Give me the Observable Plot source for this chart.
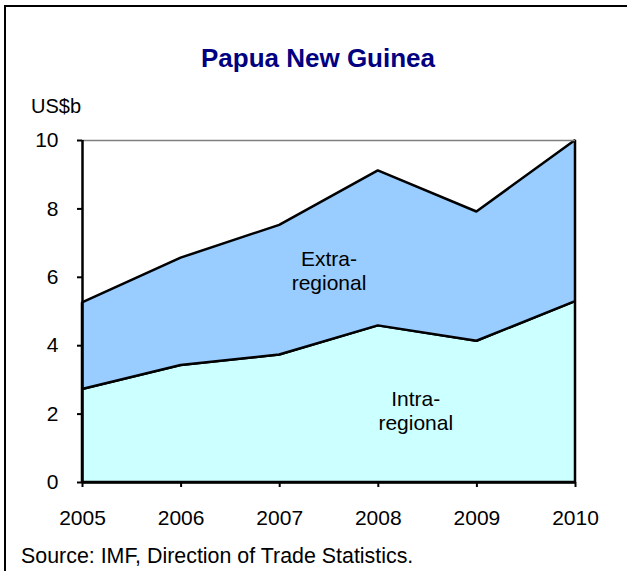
<!DOCTYPE html>
<html>
<head>
<meta charset="utf-8">
<script src="https://cdn.jsdelivr.net/npm/d3@7"></script>
<script src="https://cdn.jsdelivr.net/npm/@observablehq/plot@0.6"></script>
<style>
  html, body { margin: 0; padding: 0; background: #fff; }
  #frame { position: relative; width: 627px; height: 571px; overflow: hidden; font-family: "Liberation Sans", Arial, sans-serif; }
  #border { position: absolute; left: 4px; top: 5px; width: 640px; height: 600px; border-left: 2.5px solid #000; border-top: 2.5px solid #000; }
  #title { position: absolute; left: 0; width: 636px; top: 44px; text-align: center; font-weight: bold; font-size: 26px; line-height: 1.15; color: #000080; }
  #unit { position: absolute; left: 31px; top: 95px; font-size: 20px; line-height: 1.15; color: #000; }
  #source { position: absolute; left: 21px; top: 544px; font-size: 21.4px; line-height: 1.15; color: #000; white-space: nowrap; }
  #chart { position: absolute; left: 0; top: 0; }
</style>
</head>
<body>
<div id="frame">
  <div id="chart"></div>
  <div id="border"></div>
  <div id="title">Papua New Guinea</div>
  <div id="unit">US$b</div>
  <div id="source">Source: IMF, Direction of Trade Statistics.</div>
</div>
<script>
const years = [2005, 2006, 2007, 2008, 2009, 2010];
const intraRegional = [2.72, 3.42, 3.73, 4.58, 4.13, 5.29];
const extraRegional = [2.53, 3.14, 3.79, 4.53, 3.78, 4.71];
const seriesNames = ["Intra-regional", "Extra-regional"];
const seriesColors = ["#CCFFFF", "#99CCFF"];
const yTicks = [0, 2, 4, 6, 8, 10];
const labelText = ["Extra-\nregional", "Intra-\nregional"];
const labelX = [2007.5, 2008.38];
const labelY = [6.2, 2.1];

const rows = [];
years.forEach((yr, i) => {
  rows.push({year: yr, series: seriesNames[0], value: intraRegional[i]});
  rows.push({year: yr, series: seriesNames[1], value: extraRegional[i]});
});
const labels = labelText.map((t, i) => ({text: t, x: labelX[i], y: labelY[i]}));

const chart = Plot.plot({
  width: 627,
  height: 571,
  marginLeft: 82,
  marginRight: 52,
  marginTop: 140,
  marginBottom: 89,
  style: {fontFamily: "'Liberation Sans', Arial, sans-serif", fontSize: "21px", color: "#000", background: "transparent"},
  x: {domain: [2005, 2010]},
  y: {domain: [0, 10]},
  color: {domain: seriesNames, range: seriesColors},
  marks: [
    Plot.areaY(rows, {x: "year", y: "value", fill: "series", order: seriesNames, stroke: "#000", strokeWidth: 2.5, strokeLinejoin: "miter"}),
    Plot.ruleY([10], {stroke: "#808080", strokeWidth: 1.5}),
    Plot.ruleY([0], {stroke: "#000", strokeWidth: 2.5}),
    Plot.ruleX([2005], {stroke: "#000", strokeWidth: 2.5}),
    Plot.axisY({ticks: yTicks, tickSize: 5, tickPadding: 19, tickFormat: d => String(d), label: null, stroke: "#000", strokeWidth: 2, fill: "#000", fontSize: 21}),
    Plot.axisX({ticks: years, tickSize: 5, tickPadding: 23, tickFormat: d => String(d), label: null, stroke: "#000", strokeWidth: 2, fill: "#000", fontSize: 21}),
    Plot.text(labels, {x: "x", y: "y", text: "text", fontSize: 21, lineHeight: 1.15, fill: "#000"})
  ]
});
document.getElementById("chart").appendChild(chart);
</script>
</body>
</html>
